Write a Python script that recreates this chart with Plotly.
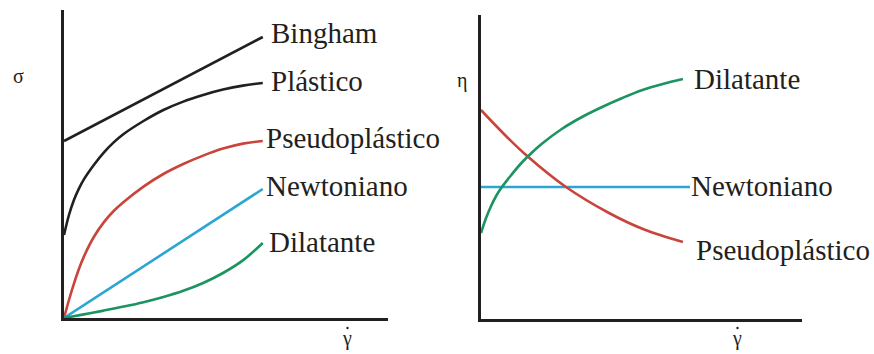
import plotly.graph_objects as go

# Shear stress (sigma) vs shear rate, left panel
bingham_x = [0, 10]
bingham_y = [8.85, 14.05]

plastico_x = [0, 0.25, 0.5, 0.75, 1, 1.5, 2, 2.5, 3, 4, 5, 6, 7, 8, 9, 10]
plastico_y = [4.15, 5.15, 5.9, 6.47, 6.93, 7.65, 8.27, 8.78, 9.2, 9.85, 10.4, 10.82, 11.15, 11.42, 11.62, 11.75]

pseudo_x = [0, 0.25, 0.5, 0.75, 1, 1.5, 2, 2.5, 3, 4, 5, 6, 7, 8, 9, 10]
pseudo_y = [0, 0.9, 1.72, 2.45, 3.07, 4.05, 4.78, 5.35, 5.8, 6.57, 7.2, 7.7, 8.12, 8.47, 8.72, 8.85]

newton_x = [0, 10]
newton_y = [0, 6.45]

dilat_x = [0, 1, 2, 3, 4, 5, 6, 7, 8, 9, 10]
dilat_y = [0, 0.18, 0.37, 0.57, 0.79, 1.05, 1.36, 1.75, 2.25, 2.88, 3.75]

# Viscosity (eta) vs shear rate, right panel
eta_dilat_x = [0, 0.25, 0.5, 0.75, 1, 1.5, 2, 2.5, 3, 4, 5, 6, 7, 8, 9, 10]
eta_dilat_y = [4.3, 5.05, 5.65, 6.15, 6.55, 7.2, 7.8, 8.3, 8.75, 9.5, 10.1, 10.6, 11.05, 11.45, 11.75, 12.0]

eta_pseudo_x = [0, 1.09, 2.23, 4.21, 6.34, 8.02, 10]
eta_pseudo_y = [10.45, 9.3, 8.2, 6.6, 5.3, 4.5, 3.85]

eta_newton_x = [0, 10.35]
eta_newton_y = [6.6, 6.6]

INK = "#231f20"
RED = "#c9443a"
BLUE = "#2ba6d2"
GREEN = "#1b9460"
W, H = 874, 354

fig = go.Figure()

def curve(x, y, color, axis):
    fig.add_trace(go.Scatter(
        x=x, y=y, mode="lines", xaxis="x" + axis, yaxis="y" + axis,
        line=dict(color=color, width=2.6, shape="spline", smoothing=1.0),
        hoverinfo="skip", showlegend=False))

curve(bingham_x, bingham_y, INK, "")
curve(plastico_x, plastico_y, INK, "")
curve(pseudo_x, pseudo_y, RED, "")
curve(newton_x, newton_y, BLUE, "")
curve(dilat_x, dilat_y, GREEN, "")

curve(eta_newton_x, eta_newton_y, BLUE, "2")
curve(eta_pseudo_x, eta_pseudo_y, RED, "2")
curve(eta_dilat_x, eta_dilat_y, GREEN, "2")

def px_domain_x(a, b):
    return [a / W, b / W]

def px_domain_y(top, bottom):
    return [(H - bottom) / H, (H - top) / H]

axis_style = dict(showgrid=False, zeroline=False, showticklabels=False,
                  ticks="", showline=True, linecolor=INK, linewidth=3,
                  fixedrange=True)

fig.update_layout(
    width=W, height=H, margin=dict(l=0, r=0, t=0, b=0),
    paper_bgcolor="white", plot_bgcolor="white",
    xaxis=dict(domain=px_domain_x(64, 388), range=[0, 16.3], **axis_style),
    yaxis=dict(domain=px_domain_y(10, 318), range=[0, 15.4], **axis_style),
    xaxis2=dict(domain=px_domain_x(481, 802), range=[0, 15.9], anchor="y2", **axis_style),
    yaxis2=dict(domain=px_domain_y(15, 319), range=[0, 15.2], anchor="x2", **axis_style),
)

SERIF = "Liberation Serif"
label_font = dict(family=SERIF, size=29, color=INK)

def label(text, x, y, axis, xshift, yshift=0):
    fig.add_annotation(text=text, x=x, y=y, xref="x" + axis, yref="y" + axis,
                       xanchor="left", yanchor="middle", showarrow=False,
                       xshift=xshift, yshift=yshift, font=label_font)

label("Bingham", bingham_x[-1], bingham_y[-1], "", 6, 4)
label("Plástico", plastico_x[-1], plastico_y[-1], "", 6, 2)
label("Pseudoplástico", pseudo_x[-1], pseudo_y[-1], "", 1, 3)
label("Newtoniano", newton_x[-1], newton_y[-1], "", 1, 3)
label("Dilatante", dilat_x[-1], dilat_y[-1], "", 4, 1)

label("Dilatante", eta_dilat_x[-1], eta_dilat_y[-1], "2", 9, 0)
label("Newtoniano", eta_newton_x[-1], eta_newton_y[-1], "2", -1, 1)
label("Pseudoplástico", eta_pseudo_x[-1], eta_pseudo_y[-1], "2", 11, -8)

def sym(text, xp, yp, size=20):
    fig.add_annotation(text=text, x=xp / W, y=1 - yp / H, xref="paper", yref="paper",
                       xanchor="center", yanchor="middle", showarrow=False,
                       font=dict(family=SERIF, size=size, color=INK))

sym("σ", 18, 76)
sym("η", 462, 80)
for gx in (347, 737):
    sym("γ", gx, 338)
    # overdot of the shear-rate symbol
    cy = 1 - 328 / H
    fig.add_shape(type="circle", xref="paper", yref="paper",
                  x0=(gx + 0.5 - 1.2) / W, x1=(gx + 0.5 + 1.2) / W,
                  y0=cy - 1.2 / H, y1=cy + 1.2 / H,
                  fillcolor=INK, line=dict(width=0))

fig.write_html("out.html")
